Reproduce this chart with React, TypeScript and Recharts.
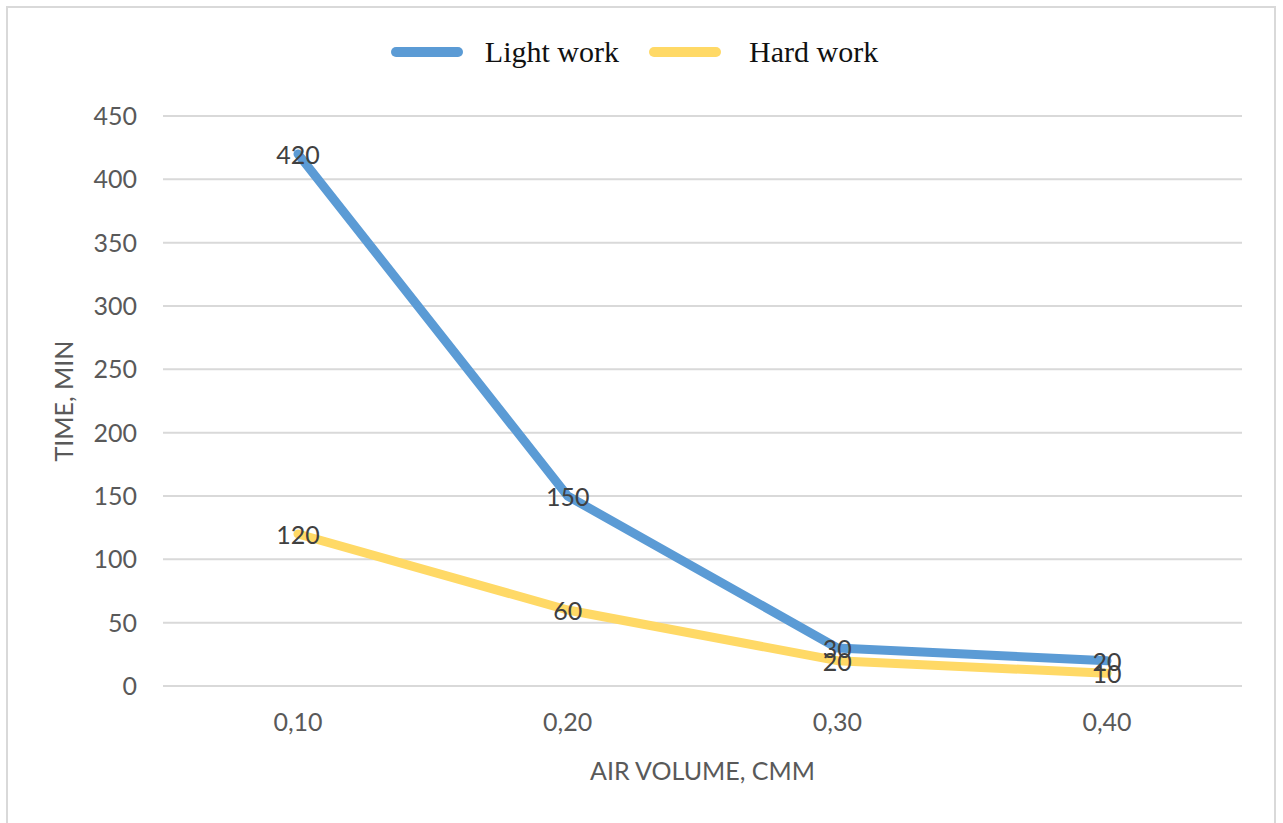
import React from 'react';
import { LineChart, Line, XAxis, YAxis, CartesianGrid, Legend } from 'recharts';

const airVolumes = ['0,10', '0,20', '0,30', '0,40'];
const lightWork = [420, 150, 30, 20];
const hardWork = [120, 60, 20, 10];
const yTicks = [0, 50, 100, 150, 200, 250, 300, 350, 400, 450];
const seriesNames = ['Light work', 'Hard work'];

const BLUE = '#5B9BD5';
const GOLD = '#FFD966';
const TICK_FONT = 'Lato, "Open Sans", sans-serif';

const data = airVolumes.map((v, i) => ({ volume: v, light: lightWork[i], hard: hardWork[i] }));

const pointLabel = (props: any) => {
  const { x, y, value, index } = props;
  return (
    <text
      key={`lbl-${index}`}
      x={x}
      y={y}
      textAnchor="middle"
      dominantBaseline="central"
      fontFamily={TICK_FONT}
      fontSize={25}
      fill="#404040"
    >
      {value}
    </text>
  );
};

const LegendContent = (props: any) => {
  const items = [...(props.payload || [])].sort(
    (a: any, b: any) => seriesNames.indexOf(a.value) - seriesNames.indexOf(b.value)
  );
  return (
    <div style={{ display: 'flex', justifyContent: 'center', alignItems: 'center', height: 40, paddingRight: 14 }}>
      {items.map((p: any, i: number) => (
        <div key={p.value} style={{ display: 'flex', alignItems: 'center', marginLeft: i === 0 ? 0 : 30 }}>
          <svg width={72} height={12} style={{ marginRight: i === 0 ? 22 : 28 }}>
            <line x1={5} y1={6} x2={67} y2={6} stroke={p.color} strokeWidth={10} strokeLinecap="round" />
          </svg>
          <span style={{ fontFamily: '"Liberation Serif", "Times New Roman", serif', fontSize: 30, color: '#111' }}>
            {p.value}
          </span>
        </div>
      ))}
    </div>
  );
};

export default function App() {
  return (
    <div style={{ position: 'absolute', left: 0, top: 0, width: 1283, height: 823, overflow: 'hidden', background: '#fff' }}>
      <div
        style={{
          position: 'absolute',
          left: 6,
          top: 6,
          width: 1266,
          height: 840,
          border: '2px solid #d9d9d9',
        }}
      />
      <div style={{ position: 'absolute', left: 0, top: 0 }}>
        <LineChart width={1283} height={823} data={data} margin={{ top: 76, right: 41, bottom: 0, left: 0 }}>
          <Legend verticalAlign="top" align="center" content={<LegendContent />} wrapperStyle={{ top: 32, left: 0, width: 1283 }} />
          <CartesianGrid vertical={false} stroke="#d9d9d9" strokeWidth={2} />
          <XAxis
            dataKey="volume"
            axisLine={false}
            tickLine={false}
            padding={{ left: 135, right: 135 }}
            tickMargin={21}
            height={137}
            tick={{ fontFamily: TICK_FONT, fontSize: 25, fill: '#595959' }}
            label={(p: any) => {
              const vb = p.viewBox;
              return (
                <text
                  x={vb.x + vb.width / 2}
                  y={770}
                  textAnchor="middle"
                  dominantBaseline="central"
                  fontFamily={TICK_FONT}
                  fontSize={25}
                  fill="#595959"
                >
                  AIR VOLUME, CMM
                </text>
              );
            }}
          />
          <YAxis
            domain={[0, 450]}
            ticks={yTicks}
            axisLine={false}
            tickLine={false}
            width={163}
            tickMargin={20}
            tick={{ fontFamily: TICK_FONT, fontSize: 25, fill: '#595959' }}
            label={(p: any) => {
              const vb = p.viewBox;
              const cy = vb.y + vb.height / 2;
              return (
                <text
                  x={63}
                  y={cy}
                  transform={`rotate(-90, 63, ${cy})`}
                  textAnchor="middle"
                  dominantBaseline="central"
                  fontFamily={TICK_FONT}
                  fontSize={25}
                  fill="#595959"
                >
                  TIME, MIN
                </text>
              );
            }}
          />
          <Line
            type="linear"
            dataKey="light"
            name={seriesNames[0]}
            stroke={BLUE}
            strokeWidth={9}
            strokeLinejoin="round"
            strokeLinecap="round"
            dot={false}
            activeDot={false}
            isAnimationActive={false}
            label={pointLabel}
          />
          <Line
            type="linear"
            dataKey="hard"
            name={seriesNames[1]}
            stroke={GOLD}
            strokeWidth={9}
            strokeLinejoin="round"
            strokeLinecap="round"
            dot={false}
            activeDot={false}
            isAnimationActive={false}
            label={pointLabel}
          />
        </LineChart>
      </div>
    </div>
  );
}
